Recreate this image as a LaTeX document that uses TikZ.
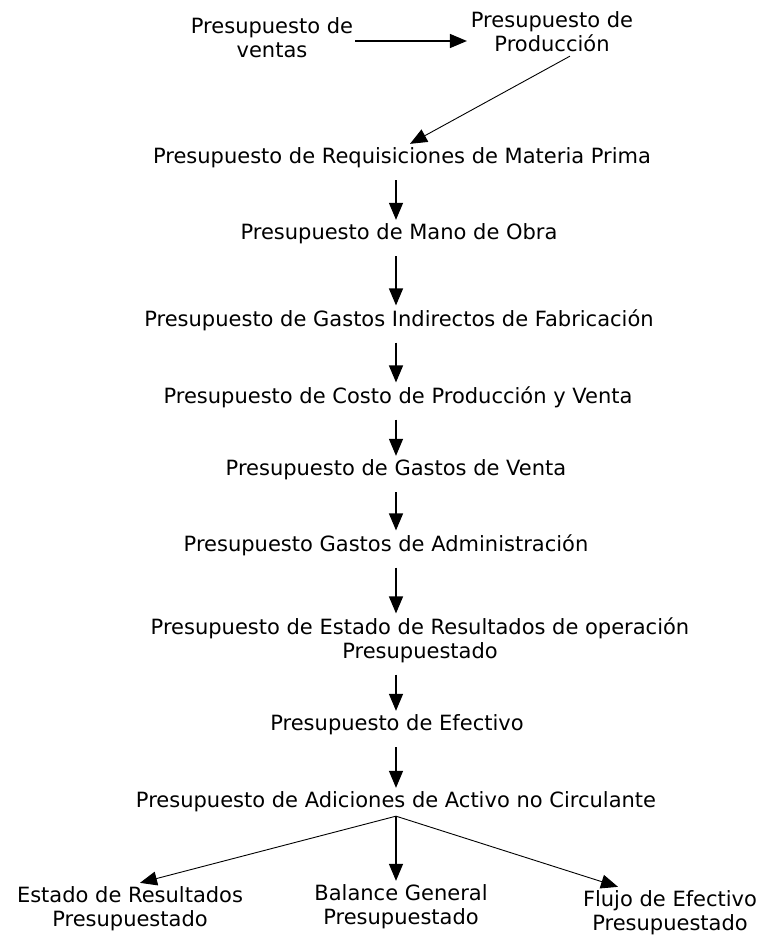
\documentclass[tikz,border=0pt]{standalone}
\usepackage{fontspec}
\setmainfont{DejaVu Sans}
\usetikzlibrary{arrows.meta}

\begin{document}
\begin{tikzpicture}[x=1pt, y=-1pt, >={Triangle[length=17pt,width=14pt]},
    caja/.style={align=center, inner sep=0pt, outer sep=4pt, font=\fontsize{21}{24}\selectfont},
    flecha/.style={->, line width=1.3pt, shorten <=8pt},
    fina/.style={->, line width=0.9pt}]

    \useasboundingbox (0,0) rectangle (760,935);

    % =================================================================
    % PARTE 1: VENTAS Y PRODUCCION
    % =================================================================
    \node[caja] (ventas) at (272,38) {Presupuesto de\\ventas};
    \node[caja] (prod) at (552,32) {Presupuesto de\\Producción};

    \draw[flecha, shorten <=-2pt] ([yshift=-3pt]ventas.east) -- ([yshift=-3pt]ventas.east -| prod.west);

    % =================================================================
    % PARTE 2: CADENA PRINCIPAL
    % =================================================================
    \coordinate (eje) at (396,0);

    \node[caja] (req) at (402,158) {Presupuesto de Requisiciones de Materia Prima};
    \node[caja] (mano) at (399,234) {Presupuesto de Mano de Obra};
    \node[caja] (gif) at (399,320) {Presupuesto de Gastos Indirectos de Fabricación};
    \node[caja] (costo) at (398,397) {Presupuesto de Costo de Producción y Venta};
    \node[caja] (gventa) at (396,470) {Presupuesto de Gastos de Venta};
    \node[caja] (adm) at (386,545) {Presupuesto Gastos de Administración};
    \node[caja] (estres) at (420,640) {Presupuesto de Estado de Resultados de operación\\Presupuestado};
    \node[caja] (efec) at (397,725) {Presupuesto de Efectivo};
    \node[caja] (adic) at (396,802) {Presupuesto de Adiciones de Activo no Circulante};

    % Flecha diagonal desde produccion
    \draw[fina] ([xshift=18pt]prod.south) -- ([xshift=8pt]req.north);

    % Flechas verticales
    \foreach \a/\b in {req/mano, mano/gif, gif/costo, costo/gventa, gventa/adm,
                       adm/estres, estres/efec, efec/adic} {
        \draw[flecha] (\a.south -| eje) -- (\b.north -| eje);
    }

    % =================================================================
    % PARTE 3: ESTADOS FINALES
    % =================================================================
    \node[caja] (estado) at (130,909) {Estado de Resultados\\Presupuestado};
    \node[caja] (balance) at (401,907) {Balance General\\Presupuestado};
    \node[caja] (flujo) at (670,913) {Flujo de Efectivo\\Presupuestado};

    \draw[fina] (adic.south -| eje) -- ([xshift=10pt]estado.north);
    \draw[flecha, shorten <=0pt] (adic.south -| eje) -- (balance.north -| eje);
    \draw[fina] (adic.south -| eje) -- ([xshift=-52pt]flujo.north);

\end{tikzpicture}
\end{document}
